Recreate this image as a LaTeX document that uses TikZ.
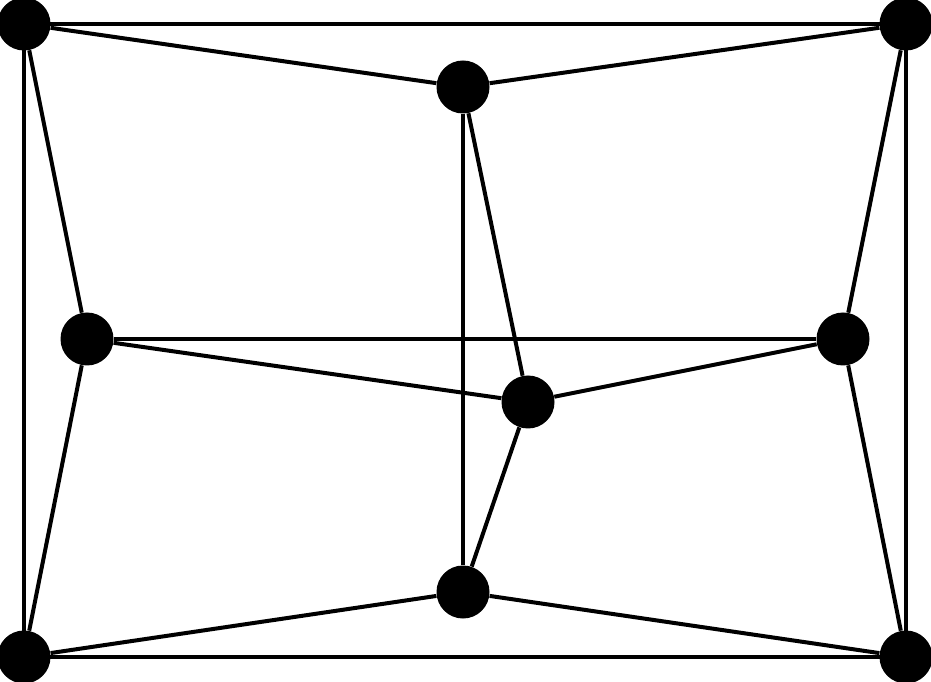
\documentclass[tikz,border=0pt]{standalone}
\usepackage{tikz}
\usetikzlibrary{positioning}

\begin{document}
\begin{tikzpicture}[
  vertex/.style={circle, fill=black, draw=none, minimum size=1.06cm, inner sep=0pt},
  edge/.style={line width=0.08cm, black}
]
    \useasboundingbox (0, 0) rectangle (18.62, 13.62);

    \begin{scope}[every node/.style={vertex}]
        \node (tl) at (0.48, 13.14) {};
        \node (tr) at (18.12, 13.14) {};
        \node (bl) at (0.48, 0.48) {};
        \node (br) at (18.12, 0.48) {};
        \node (tm) at (9.26, 11.88) {};
        \node (bm) at (9.26, 1.78) {};
        \node (ml) at (1.74, 6.84) {};
        \node (mr) at (16.86, 6.84) {};
        \node (ct) at (10.56, 5.58) {};
    \end{scope}

    \begin{scope}[edge]
        \draw (tl.center) -- (tr.center) -- (br.center) -- (bl.center) -- cycle;
        \draw (tl) -- (tm);
        \draw (tr) -- (tm);
        \draw (bl) -- (bm);
        \draw (br) -- (bm);
        \draw (tl) -- (ml);
        \draw (bl) -- (ml);
        \draw (tr) -- (mr);
        \draw (br) -- (mr);
        \draw (ml) -- (mr);
        \draw (ml) -- (ct);
        \draw (mr) -- (ct);
        \draw (tm) -- (bm);
        \draw (tm) -- (ct);
        \draw (bm) -- (ct);
    \end{scope}
\end{tikzpicture}
\end{document}
